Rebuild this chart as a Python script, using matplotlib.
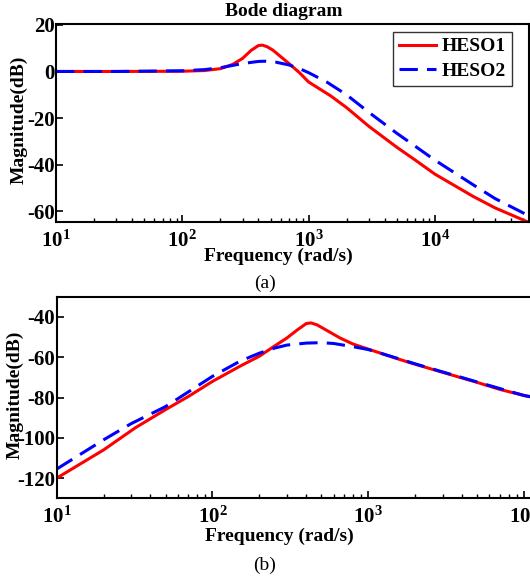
import matplotlib.pyplot as plt
import numpy as np
from matplotlib.ticker import FuncFormatter

plt.rcParams['font.family'] = ['Liberation Serif', 'DejaVu Serif']
plt.rcParams['font.weight'] = 'bold'
plt.rcParams['axes.unicode_minus'] = False
plt.rcParams['mathtext.fontset'] = 'custom'
plt.rcParams['mathtext.rm'] = 'Liberation Serif:bold'
plt.rcParams['mathtext.it'] = 'Liberation Serif:bold'
plt.rcParams['mathtext.bf'] = 'Liberation Serif:bold'

# (a) closed-loop magnitude
freq_a1 = [10, 30, 100, 150, 200, 250, 300, 350, 400, 430, 470, 520, 600, 700, 850,
           1000, 1500, 2000, 3000, 5000, 7000, 1e4, 2e4, 3e4, 5.6e4]
mag_a1 = [0, 0, 0.1, 0.4, 1.2, 3.0, 5.6, 9.0, 11.1, 11.3, 10.6, 9.2, 6.4, 3.4, -0.6,
          -4.5, -10.5, -15.5, -23.5, -32.5, -38.0, -44.0, -53.5, -58.5, -64.8]
freq_a2 = [10, 30, 100, 150, 200, 300, 400, 450, 550, 700, 850, 1000, 1400, 2000,
           3000, 5000, 1e4, 2e4, 3e4, 5.6e4]
mag_a2 = [0, 0, 0.3, 0.8, 1.6, 3.4, 4.3, 4.4, 4.0, 2.8, 1.2, -0.5, -4.6, -10.0,
          -17.5, -26.5, -38.0, -48.5, -54.5, -62.0]

# (b) disturbance magnitude
freq_b1 = [10, 20, 32, 50, 70, 100, 150, 200, 250, 300, 350, 400, 430, 470, 550,
           660, 800, 1000, 1200, 1500, 2000, 3000, 5000, 7000, 1e4, 1.2e4]
mag_b1 = [-120, -106, -95, -86, -79.5, -72, -64.5, -59.5, -54.5, -50.5, -46.5, -43.3,
          -43, -44, -47, -50.5, -53.5, -56, -58, -60.5, -63.5, -67.5, -72.5, -76, -79, -80.2]
freq_b2 = [10, 20, 30, 50, 100, 150, 200, 250, 300, 400, 500, 600, 800, 1000, 1500,
           2000, 3000, 5000, 1e4, 1.2e4]
mag_b2 = [-115.5, -101, -93, -84.5, -69.5, -62, -58, -55.5, -54, -53, -52.8, -53.2,
          -54.8, -56.2, -60.3, -63.3, -67.3, -72.3, -79, -80.2]

labels = ['HESO1', 'HESO2']
fig = plt.figure(figsize=(5.3, 5.8), dpi=100)


def style(ax, ylim, yticks, xlim):
    ax.set_xscale('log')
    ax.set_xlim(xlim)
    ax.set_ylim(ylim)
    ax.set_yticks(yticks)
    ax.xaxis.set_major_formatter(FuncFormatter(lambda v, p: r'$\mathbf{10^{%d}}$' % round(np.log10(v))))
    ax.tick_params(which='both', direction='in', top=False, right=False)
    ax.tick_params(which='major', length=5, width=1.2, labelsize=15)
    ax.tick_params(axis='x', which='major', pad=6)
    ax.tick_params(axis='y', which='major', pad=1)
    ax.tick_params(which='minor', length=3, width=1.0)
    for sp in ax.spines.values():
        sp.set_linewidth(1.5)
    ax.set_xlabel('Frequency (rad/s)', fontsize=14, fontweight='bold')
    ax.set_ylabel('Magnitude(dB)', fontsize=14, fontweight='bold')


ax1 = fig.add_axes([0.1057, 0.617, 0.8923, 0.3414])
ax1.plot(freq_a1, mag_a1, color='#ff0000', lw=2.2, label=labels[0])
ax1.plot(freq_a2, mag_a2, color='#0000ff', lw=2.2, ls=(0, (6, 3)), label=labels[1])
style(ax1, (-64.6, 20.3), [-60, -40, -20, 0, 20], (10, 5.56e4))
ax1.xaxis.set_label_coords(0.471, -0.13)
ax1.yaxis.set_label_coords(-0.06, 0.515)
leg = ax1.legend(loc='upper right', prop={'weight': 'bold', 'size': 14},
                 fancybox=False, edgecolor='black', handlelength=1.9,
                 handletextpad=0.3, borderpad=0.3, labelspacing=0.35,
                 borderaxespad=0, bbox_to_anchor=(0.964, 0.96))
leg.get_frame().set_linewidth(1.0)
fig.text(284 / 530, 1 - 12 / 580, 'Bode diagram', ha='center', va='center',
         fontsize=14, fontweight='bold')

ax2 = fig.add_axes([0.107, 0.1409, 0.905, 0.3475])
ax2.plot(freq_b1, mag_b1, color='#ff0000', lw=2.2)
ax2.plot(freq_b2, mag_b2, color='#0000ff', lw=2.2, ls=(0, (6, 3)))
style(ax2, (-130, -30), [-120, -100, -80, -60, -40], (10, 1.2e4))
ax2.spines['right'].set_visible(False)
ax2.xaxis.set_label_coords(0.4645, -0.145)
ax2.yaxis.set_label_coords(-0.068, 0.512)

fig.text(0.5, 1 - 283 / 580, '(a)', ha='center', va='center', fontsize=14, fontweight='normal')
fig.text(0.5, 1 - 565 / 580, '(b)', ha='center', va='center', fontsize=14, fontweight='normal')

fig.savefig('out.png', dpi=100)
